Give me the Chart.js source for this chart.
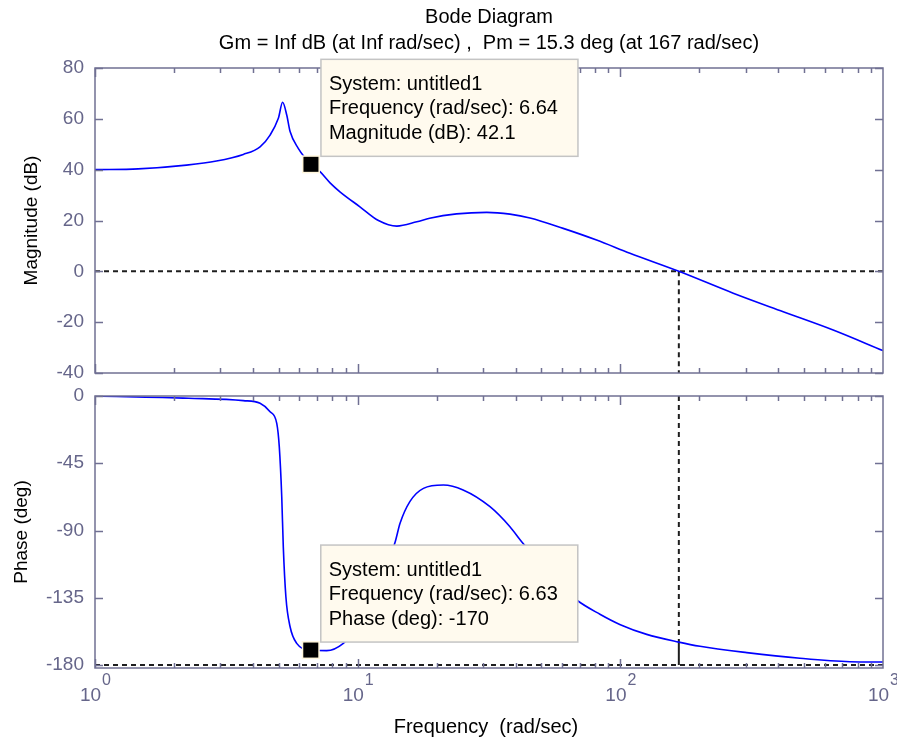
<!DOCTYPE html>
<html>
<head>
<meta charset="utf-8">
<script src="https://cdn.jsdelivr.net/npm/chart.js@4.4.1/dist/chart.umd.min.js"></script>
<style>
body { margin: 0; background: #fff; }
#wrap { position: relative; width: 897px; height: 744px; overflow: hidden; }
canvas { position: absolute; left: 0; }
</style>
</head>
<body>
<div id="wrap">
<canvas id="magChart" width="897" height="400" style="top:0"></canvas>
<canvas id="phaseChart" width="897" height="374" style="top:370px"></canvas>
</div>
<script>
// values
const magFreq = [1, 1.46, 2.23, 2.9, 3.67, 4.25, 4.64, 4.99, 5.18, 5.37, 5.53, 5.94, 6.64, 7.19, 7.85, 8.56, 10.2, 12.0, 14.1, 16.8, 18.8, 23.8, 31, 38, 45.3, 60.6, 81.2, 108.8, 167, 269, 417, 646, 1000];
const magDb = [40, 40.3, 41.8, 43.4, 46, 49, 53.6, 60.2, 66.5, 61.5, 55, 48.4, 42.1, 39.2, 34.8, 31.3, 25.4, 20, 17.8, 19.5, 20.9, 22.6, 23.2, 22.5, 21.0, 16.9, 12.3, 7.1, 0, -8.6, -15.9, -23.1, -31.2];
const phaseFreq = [1, 2.27, 3.67, 4.25, 4.64, 4.92, 5.03, 5.14, 5.21, 5.33, 5.53, 5.86, 6.63, 7.62, 8.82, 10.5, 12.2, 13.9, 14.5, 15.8, 17.8, 21.2, 25.2, 31.9, 38, 42.1, 50, 58, 68.2, 83.6, 100, 126, 167, 201, 303, 483, 748, 1000];
const phaseDeg = [0, -1.5, -3.1, -4.9, -10.5, -18.3, -33.9, -67.4, -100.8, -134.3, -154.4, -165.5, -170, -170.4, -165.5, -150, -125, -97.5, -85.2, -70.7, -61.8, -59.6, -62.9, -74.1, -87.5, -97.5, -112, -125, -136.5, -146, -153, -159.5, -164.7, -167.5, -171.7, -175.5, -177.8, -178];

const magTicks = [80, 60, 40, 20, 0, -20, -40];
const phaseTicks = [0, -45, -90, -135, -180];
const decades = [1, 10, 100, 1000];
const decadeExp = ['0', '1', '2', '3'];

const pmFreq = 167;
const pmDeg = 15.3;
const tipFreq = [6.64, 6.63];
const tipValue = [42.1, -170];
const tipName = ['Magnitude (dB)', 'Phase (deg)'];

const fontFam = '"Liberation Sans", Arial, sans-serif';
const frameColor = '#707093';
const labelColor = '#66668a';
const dashColor = '#1e1e1e';

function pts(xs, ys) {
    return xs.map(function (x, i) { return {x: x, y: ys[i]}; });
}

function refLine(data, dashed) {
    return {
        data: data, borderColor: dashColor, borderWidth: 2,
        borderDash: dashed ? [5, 4] : [], pointRadius: 0, fill: false
    };
}

const framePlugin = {
    id: 'frame',
    afterDraw: function (chart, args, o) {
        const ctx = chart.ctx, a = chart.chartArea;
        const xs = chart.scales.x, ys = chart.scales.y;
        ctx.save();
        // box + inward ticks
        ctx.strokeStyle = frameColor;
        ctx.lineWidth = 1.5;
        ctx.strokeRect(a.left, a.top, a.right - a.left, a.bottom - a.top);
        ctx.beginPath();
        decades.slice(0, 3).forEach(function (d) {
            for (let k = 1; k < 10; k++) {
                const x = Math.round(xs.getPixelForValue(d * k)) + 0.5;
                const len = k === 1 ? 9 : 5;
                ctx.moveTo(x, a.top); ctx.lineTo(x, a.top + len);
                ctx.moveTo(x, a.bottom); ctx.lineTo(x, a.bottom - len);
            }
        });
        ys.ticks.forEach(function (t) {
            const y = Math.round(ys.getPixelForValue(t.value)) + 0.5;
            ctx.moveTo(a.left, y); ctx.lineTo(a.left + 8, y);
            ctx.moveTo(a.right, y); ctx.lineTo(a.right - 8, y);
        });
        ctx.stroke();

        // y axis title
        ctx.fillStyle = '#000';
        ctx.font = '19px ' + fontFam;
        ctx.textAlign = 'center';
        ctx.textBaseline = 'middle';
        ctx.save();
        ctx.translate(o.yTitleX, (a.top + a.bottom) / 2);
        ctx.rotate(-Math.PI / 2);
        ctx.fillText(o.yTitle, 0, 0);
        ctx.restore();

        if (o.titles) {
            ctx.font = '20px ' + fontFam;
            const cx = (a.left + a.right) / 2;
            ctx.fillText('Bode Diagram', cx, 17);
            ctx.fillText('Gm = Inf dB (at Inf rad/sec) ,  Pm = 15.3 deg (at 167 rad/sec)', cx, 43);
        }

        if (o.xLabels) {
            decades.forEach(function (d, i) {
                const x = xs.getPixelForValue(d);
                ctx.font = '19px ' + fontFam;
                const w1 = ctx.measureText('10').width;
                ctx.font = '16px ' + fontFam;
                const w2 = ctx.measureText(decadeExp[i]).width;
                const x0 = x - (w1 + w2) / 2;
                ctx.fillStyle = labelColor;
                ctx.textAlign = 'left';
                ctx.font = '19px ' + fontFam;
                ctx.fillText('10', x0, a.bottom + 28);
                ctx.font = '16px ' + fontFam;
                ctx.fillText(decadeExp[i], x0 + w1 + 1, a.bottom + 13);
            });
            ctx.fillStyle = '#000';
            ctx.textAlign = 'center';
            ctx.font = '20px ' + fontFam;
            ctx.fillText('Frequency  (rad/sec)', (a.left + a.right) / 2 - 3, a.bottom + 59);
        }

        // data tip marker + box
        const mx = xs.getPixelForValue(o.tipFreq);
        const my = ys.getPixelForValue(o.tipValue);
        ctx.fillStyle = '#fff6dc';
        ctx.fillRect(mx - 9, my - 9, 18, 18);
        ctx.fillStyle = '#000';
        ctx.fillRect(mx - 7.5, my - 7.5, 15, 15);
        const bx = mx + 10, by = my - 8 - 97;
        ctx.fillStyle = '#fffaee';
        ctx.fillRect(bx, by, 257, 97);
        ctx.strokeStyle = '#c4c4c4';
        ctx.lineWidth = 1.5;
        ctx.strokeRect(bx, by, 257, 97);
        ctx.fillStyle = '#000';
        ctx.textAlign = 'left';
        ctx.textBaseline = 'middle';
        ctx.font = '20px ' + fontFam;
        o.tipLines.forEach(function (s, i) {
            ctx.fillText(s, bx + 8, by + 25 + 24.5 * i);
        });
        ctx.restore();
    }
};

function makeChart(id, curve, refs, tickVals, yMin, yMax, pad, frameOpts) {
    return new Chart(document.getElementById(id), {
        type: 'line',
        data: {
            datasets: [{
                data: curve, borderColor: '#0000ff', borderWidth: 1.6,
                pointRadius: 0, fill: false, cubicInterpolationMode: 'monotone'
            }].concat(refs)
        },
        options: {
            responsive: false,
            animation: false,
            devicePixelRatio: 1,
            parsing: false,
            layout: {padding: pad},
            plugins: {legend: {display: false}, tooltip: {enabled: false}, frame: frameOpts},
            scales: {
                x: {type: 'logarithmic', min: 1, max: 1000, display: false},
                y: {
                    min: yMin, max: yMax,
                    afterBuildTicks: function (s) {
                        s.ticks = tickVals.map(function (v) { return {value: v}; });
                    },
                    afterFit: function (s) { s.width = 95; },
                    grid: {display: false, drawTicks: false},
                    border: {display: false},
                    ticks: {color: labelColor, font: {family: fontFam, size: 19}, padding: 11}
                }
            }
        },
        plugins: [framePlugin]
    });
}

makeChart('magChart', pts(magFreq, magDb), [
    refLine([{x: 1, y: 0}, {x: 1000, y: 0}], true),
    refLine([{x: pmFreq, y: 0}, {x: pmFreq, y: -40}], true)
], magTicks, -40, 80, {left: 0, top: 68, right: 14, bottom: 27}, {
    yTitle: 'Magnitude (dB)', yTitleX: 32, titles: true, xLabels: false,
    tipFreq: tipFreq[0], tipValue: tipValue[0],
    tipLines: ['System: untitled1', 'Frequency (rad/sec): ' + tipFreq[0], tipName[0] + ': ' + tipValue[0]]
});

makeChart('phaseChart', pts(phaseFreq, phaseDeg), [
    refLine([{x: 1, y: -180}, {x: 1000, y: -180}], true),
    refLine([{x: pmFreq, y: 0}, {x: pmFreq, y: -180 + pmDeg}], true),
    refLine([{x: pmFreq, y: -180 + pmDeg}, {x: pmFreq, y: -180}], false)
], phaseTicks, -182, 0, {left: 0, top: 26, right: 14, bottom: 76}, {
    yTitle: 'Phase (deg)', yTitleX: 22, titles: false, xLabels: true,
    tipFreq: tipFreq[1], tipValue: tipValue[1],
    tipLines: ['System: untitled1', 'Frequency (rad/sec): ' + tipFreq[1], tipName[1] + ': ' + tipValue[1]]
});
</script>
</body>
</html>
